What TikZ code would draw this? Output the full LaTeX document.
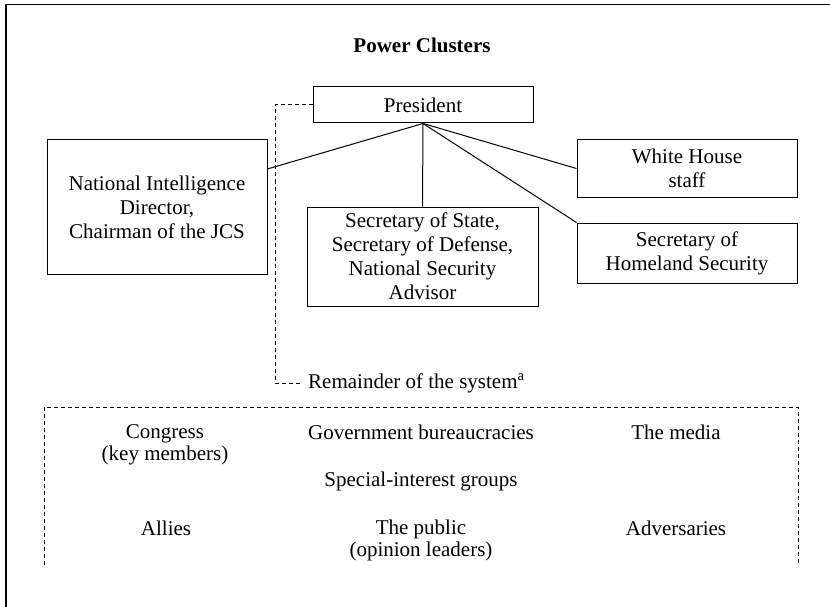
\documentclass[tikz,border=0pt]{standalone}
\usepackage{fontspec}
\setmainfont{Liberation Serif}
\usepackage{tikz}

\begin{document}
\begin{tikzpicture}[
	x=1pt, y=-1pt,
	box/.style={draw, rectangle, line width=1pt, align=center, inner sep=0pt, font=\fontsize{21}{24}\selectfont},
	actor/.style={align=center, inner sep=0pt, font=\fontsize{21}{22}\selectfont},
	dashedline/.style={line width=1pt, dash pattern=on 4pt off 3pt},
	connect/.style={line width=1pt}
	]
	
	\useasboundingbox (0,0) rectangle (830,607);
	
	%-----------------------
	% Frame and title
	%-----------------------
	\draw[line width=1.3pt] (6,607) -- (6,4.5) -- (830,4.5);
	\node[font=\fontsize{21}{24}\selectfont\bfseries] (title) at (422,45) {Power Clusters};
	
	%-----------------------
	% Power clusters
	%-----------------------
	\node[box, minimum width=220pt, minimum height=36pt] (pres) at (423,105) {President};
	\node[box, minimum width=220pt, minimum height=134pt] (nid) at (157,207) {National Intelligence\\Director,\\Chairman of the JCS};
	\node[box, minimum width=231pt, minimum height=99pt] (sec) at (422.5,256.5) {Secretary of State,\\Secretary of Defense,\\National Security\\Advisor};
	\node[box, minimum width=220pt, minimum height=57pt] (wh) at (687,168.5) {White House\\staff};
	\node[box, minimum width=220pt, minimum height=60pt] (hs) at (687,253) {Secretary of\\Homeland Security};
	
	%-----------------------
	% Connections (all from the president)
	%-----------------------
	\draw[connect] (pres.south) -- (nid.19.5);
	\draw[connect] (pres.south) -- (sec.north);
	\draw[connect] (pres.south) -- (wh.west);
	\draw[connect] (pres.south) -- (hs.north west);
	
	%-----------------------
	% Remainder of the system
	%-----------------------
	\node[actor, anchor=west, inner sep=6pt] (rest) at (302,383) {Remainder of the system\textsuperscript{a}};
	\coordinate (turn) at (275,105);
	\draw[dashedline] (pres.west) -- (turn) |- (rest.west);
	
	\draw[dashedline] (44,565) -- (44,407) -- (798,407) -- (798,565);
	
	\node[actor] (congress) at (165,445) {Congress\\(key members)};
	\node[actor] (gov) at (421,432) {Government bureaucracies};
	\node[actor] (media) at (676,432) {The media};
	\node[actor] (sig) at (421,481) {Special-interest groups};
	\node[actor] (allies) at (166,528) {Allies};
	\node[actor] (public) at (421,540) {The public\\(opinion leaders)};
	\node[actor] (adv) at (676,528) {Adversaries};
	
\end{tikzpicture}
\end{document}
